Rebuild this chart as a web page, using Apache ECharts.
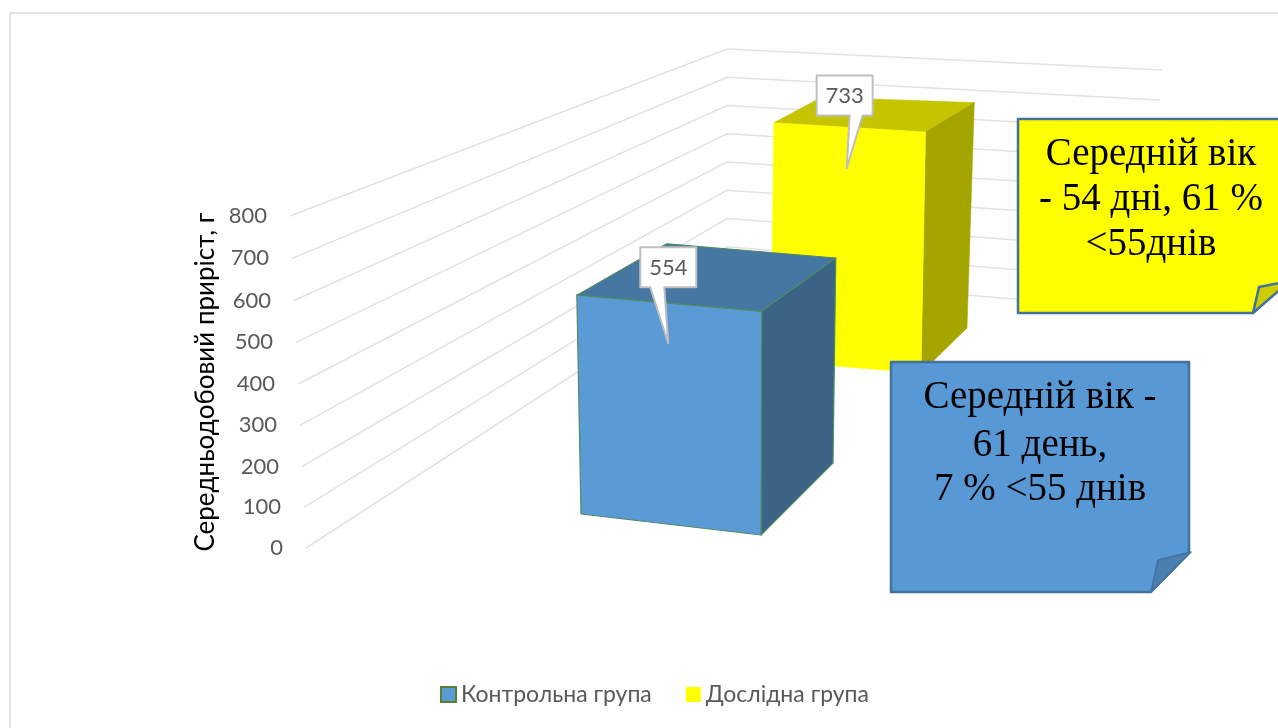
<!DOCTYPE html>
<html lang="uk">
<head>
<meta charset="utf-8">
<title>Середньодобовий приріст</title>
<style>
  html, body { margin: 0; padding: 0; background: #fff; overflow: hidden; }
  #chart { width: 1278px; height: 728px; }
</style>
<script src="https://cdn.jsdelivr.net/npm/echarts@6/dist/echarts.min.js"></script>
</head>
<body>
<div id="chart"></div>
<script>
const categories = ['Контрольна група', 'Дослідна група']
const values = [554, 733]
const tickValues = [0, 100, 200, 300, 400, 500, 600, 700, 800]
const axisTitle = 'Середньодобовий приріст, г'
const yellowNote = ['Середній вік', '- 54 дні, 61 %', '<55днів']
const blueNote = ['Середній вік -', '61 день,', '7 % <55 днів']

const SANS = 'Lato, Carlito, "Noto Sans", sans-serif'
const SERIF = '"Liberation Serif", "Times New Roman", serif'
const AXIS_MAX = 800

// the 3d look: each corner of a box is a floor point plus a lift per full axis height
const boxes = [
  {
    front: '#5b9bd5', top: '#4676a2', side: '#3a6385', edge: '#4f8a64',
    fl: [581, 514, -6, -316], fr: [761, 535, 1, -323], br: [833, 463, 4, -296], bl: [664, 446, 4, -292],
    tip: [-1, 40], box: [-28, -96], stem: [-18, -4],
  },
  {
    front: '#ffff00', top: '#c4c400', side: '#a5a500', edge: null,
    fl: [771, 361, 3, -260], fr: [921, 373, 5, -263], br: [967, 328, 8, -246], bl: [817, 318, 5, -241],
    tip: [-3, 41], box: [-30, -93], stem: [3, 16],
  },
]

// how far the value ticks sit on the floor-to-top range, 0..1
function ratio(api, value) {
  const y0 = api.coord([0, 0])[1]
  const y1 = api.coord([0, AXIS_MAX])[1]
  return (y0 - api.coord([0, value])[1]) / (y0 - y1)
}

function lift(c, t) {
  return [c[0] + c[2] * t, c[1] + c[3] * t]
}

function renderBox(idx) {
  return function (params, api) {
    const b = boxes[idx]
    const value = api.value(1)
    const t = ratio(api, value)
    const fl = lift(b.fl, 0), fr = lift(b.fr, 0), br = lift(b.br, 0)
    const tfl = lift(b.fl, t), tfr = lift(b.fr, t), tbr = lift(b.br, t), tbl = lift(b.bl, t)
    const face = (points, fill) => ({
      type: 'polygon',
      shape: { points },
      style: { fill, stroke: b.edge || fill, lineWidth: b.edge ? 1.2 : 0.5, lineJoin: 'round' },
    })
    const tip = [(tfl[0] + tfr[0]) / 2 + b.tip[0], (tfl[1] + tfr[1]) / 2 + b.tip[1]]
    const bx = tip[0] + b.box[0]
    const by = tip[1] + b.box[1]
    const calloutPath = [
      [bx, by], [bx + 56, by], [bx + 56, by + 40],
      [tip[0] + b.stem[1], by + 40], tip, [tip[0] + b.stem[0], by + 40], [bx, by + 40],
    ]
    return {
      type: 'group',
      children: [
        face([tfl, tfr, tbr, tbl], b.top),
        face([tfr, tbr, br, fr], b.side),
        face([tfl, tfr, fr, fl], b.front),
        {
          type: 'polygon',
          shape: { points: calloutPath },
          style: { fill: '#fff', stroke: '#bfbfbf', lineWidth: 2, lineJoin: 'round' },
        },
        {
          type: 'text',
          style: {
            text: String(value), x: bx + 28, y: by + 21, fill: '#595959',
            font: '22px ' + SANS, align: 'center', verticalAlign: 'middle',
          },
        },
      ],
    }
  }
}

// wall lines and the slanted tick labels
function renderTick(params, api) {
  const value = api.value(1)
  const t = ratio(api, value)
  const y = api.coord([0, value])[1] + 8 * t * (1 - t)
  const front = [306 - 16 * t, y]
  const back = [727, 275 - 226 * t]
  const end = [1146 + 16 * t, 310 - 240 * t]
  return {
    type: 'group',
    children: [
      {
        type: 'polyline',
        shape: { points: [front, back, end] },
        style: { fill: 'none', stroke: '#e2e2e2', lineWidth: 1.5 },
      },
      {
        type: 'text',
        style: {
          text: String(value), x: front[0] - 23, y: y, fill: '#595959',
          font: '22px ' + SANS, align: 'right', verticalAlign: 'middle',
        },
      },
    ],
  }
}

function noteText(lines, x, ys) {
  return lines.map((text, i) => ({
    type: 'text',
    z: 101,
    style: {
      text, x, y: ys[i], fill: '#000',
      font: '39px ' + SERIF, align: 'center', verticalAlign: 'middle',
    },
  }))
}

const NOTE_STROKE = { stroke: '#41719c', lineWidth: 2.5, lineJoin: 'round' }

const chart = echarts.init(document.getElementById('chart'), null, { renderer: 'canvas' })
chart.setOption({
  animation: false,
  backgroundColor: '#fff',
  grid: { left: 283, right: 100, top: 216, bottom: 180 },
  xAxis: { type: 'category', data: [''], show: false },
  yAxis: {
    type: 'value',
    min: 0,
    max: AXIS_MAX,
    interval: 100,
    name: axisTitle,
    nameLocation: 'middle',
    nameRotate: 90,
    nameGap: 64,
    nameTextStyle: { color: '#000', fontSize: 26, fontFamily: SANS },
    axisLine: { show: false },
    axisTick: { show: false },
    axisLabel: { show: false },
    splitLine: { show: false },
  },
  legend: {
    data: categories,
    left: 435,
    top: 678,
    icon: 'rect',
    itemWidth: 15,
    itemHeight: 15,
    itemGap: 34,
    textStyle: { color: '#595959', fontSize: 23, fontFamily: SANS },
  },
  series: [
    {
      name: 'ticks',
      type: 'custom',
      z: 1,
      renderItem: renderTick,
      encode: { x: 0, y: 1 },
      data: tickValues.map(v => [0, v]),
    },
    {
      name: categories[1],
      type: 'custom',
      z: 2,
      itemStyle: { color: boxes[1].front },
      renderItem: renderBox(1),
      encode: { x: 0, y: 1 },
      data: [[0, values[1]]],
    },
    {
      name: categories[0],
      type: 'custom',
      z: 3,
      itemStyle: { color: boxes[0].front, borderColor: '#548235', borderWidth: 1.5 },
      renderItem: renderBox(0),
      encode: { x: 0, y: 1 },
      data: [[0, values[0]]],
    },
  ],
  graphic: [
    {
      type: 'polyline',
      z: 100,
      shape: { points: [[10, 728], [10, 13], [1278, 13]] },
      style: { fill: 'none', stroke: '#d9d9d9', lineWidth: 1.5 },
    },
    // yellow note, runs off the right edge like the original
    {
      type: 'polygon',
      z: 100,
      shape: { points: [[1018, 119], [1290, 119], [1290, 276], [1253, 313], [1018, 313]] },
      style: { fill: '#ffff00', ...NOTE_STROKE },
    },
    {
      type: 'polygon',
      z: 100,
      shape: { points: [[1253, 313], [1259, 287], [1290, 281]] },
      style: { fill: '#cccc00', ...NOTE_STROKE },
    },
    ...noteText(yellowNote, 1151, [155, 200, 245]),
    // blue note
    {
      type: 'polygon',
      z: 100,
      shape: { points: [[891, 362], [1189, 362], [1189, 553], [1151, 592], [891, 592]] },
      style: { fill: '#5898d4', ...NOTE_STROKE },
    },
    {
      type: 'polygon',
      z: 100,
      shape: { points: [[1151, 592], [1158, 560], [1191, 552]] },
      style: { fill: '#4a7fb0', stroke: '#41719c', lineWidth: 1.5, lineJoin: 'round' },
    },
    ...noteText(blueNote, 1040, [398, 446, 490]),
  ],
})
</script>
</body>
</html>
